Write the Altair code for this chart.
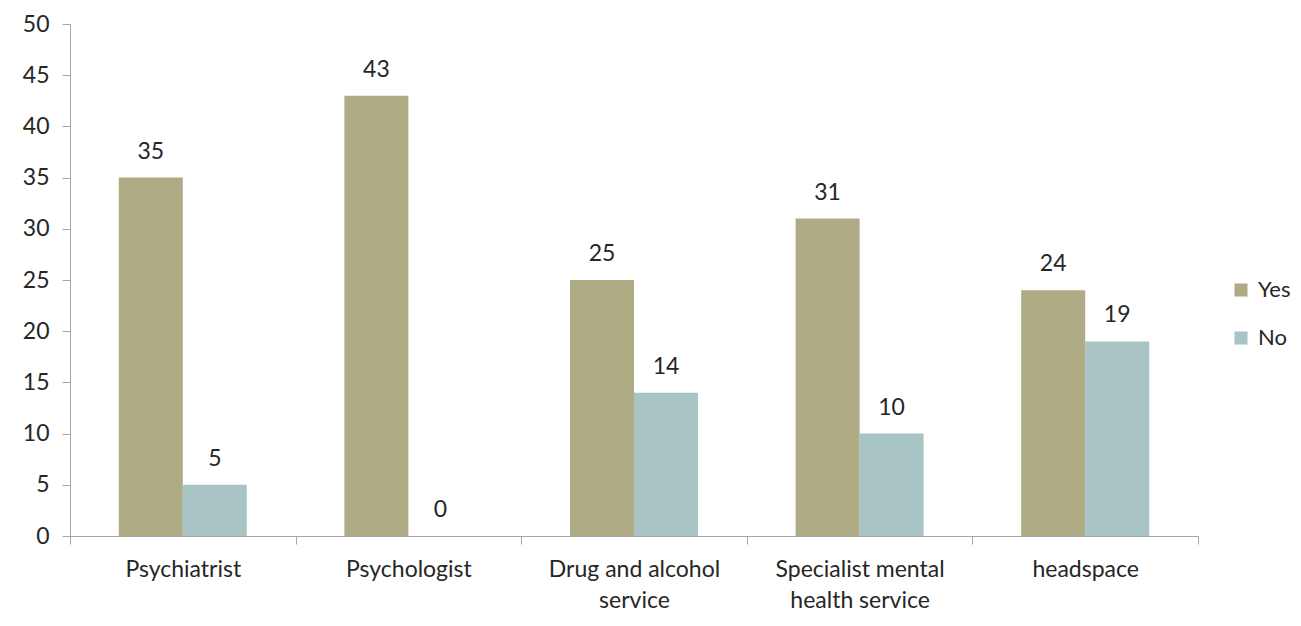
import altair as alt
import pandas as pd

categories = ["Psychiatrist", "Psychologist", "Drug and alcohol service",
              "Specialist mental health service", "headspace"]
yes_values = [35, 43, 25, 31, 24]
no_values = [5, 0, 14, 10, 19]
series = ["Yes", "No"]
colors = ["#AFAB84", "#A8C4C4"]

rows = []
for c, y, n in zip(categories, yes_values, no_values):
    rows.append({"category": c, "series": "Yes", "value": y})
    rows.append({"category": c, "series": "No", "value": n})
df = pd.DataFrame(rows)

FONT = "Lato"
TXT = "#262626"
FS = 23

x = alt.X("category:N", sort=categories, title=None,
          scale=alt.Scale(paddingInner=0, paddingOuter=0),
          axis=alt.Axis(tickBand="extent", labelAngle=0, labelFontSize=FS,
                        labelFont=FONT, labelColor=TXT, tickSize=8,
                        labelPadding=14, domainColor="#A6A6A6", tickColor="#A6A6A6",
                        labelExpr="datum.value == 'Drug and alcohol service' ? ['Drug and alcohol', 'service'] : datum.value == 'Specialist mental health service' ? ['Specialist mental', 'health service'] : datum.value",
                        labelLineHeight=31))
xo = alt.XOffset("series:N", sort=series,
                 scale=alt.Scale(paddingInner=0, paddingOuter=0.7625))
y = alt.Y("value:Q", title=None,
          scale=alt.Scale(domain=[0, 50], nice=False),
          axis=alt.Axis(values=list(range(0, 51, 5)), grid=False, labelFontSize=FS,
                        labelFont=FONT, labelColor=TXT, tickSize=8, labelPadding=13,
                        domainColor="#A6A6A6", tickColor="#A6A6A6"))

base = alt.Chart(df)
bars = base.mark_bar().encode(
    x=x, xOffset=xo, y=y,
    color=alt.Color("series:N", sort=series,
                    scale=alt.Scale(domain=series, range=colors),
                    legend=alt.Legend(title=None, orient="none", legendX=1160, legendY=255,
                                      symbolType="square", symbolSize=170,
                                      symbolStrokeWidth=0,
                                      labelFontSize=22, labelFont=FONT, labelColor=TXT,
                                      rowPadding=26, labelOffset=6)),
)
labels = base.mark_text(baseline="alphabetic", dy=-19, fontSize=FS, font=FONT, color=TXT).encode(
    x=x, xOffset=xo, y=y, text=alt.Text("value:Q"),
)

chart = (bars + labels).properties(
    width=1128, height=512,
    autosize=alt.AutoSizeParams(type="none"),
    padding={"left": 62, "top": 16, "right": 95, "bottom": 82},
).configure_view(stroke=None)

chart.save("out.html", embed_options={"renderer": "svg", "actions": False})
